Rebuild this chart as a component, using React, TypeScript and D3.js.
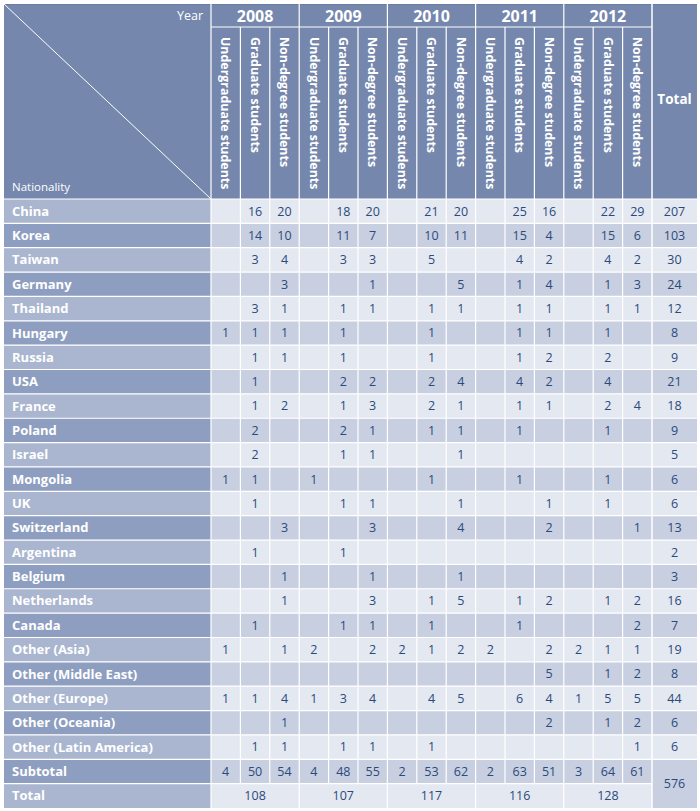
import React from "react";
import * as d3 from "d3";

const years = ["2008", "2009", "2010", "2011", "2012"];
const studentTypes = ["Undergraduate students", "Graduate students", "Non-degree students"];

const nationalities = [
  "China", "Korea", "Taiwan", "Germany", "Thailand", "Hungary", "Russia", "USA",
  "France", "Poland", "Israel", "Mongolia", "UK", "Switzerland", "Argentina",
  "Belgium", "Netherlands", "Canada", "Other (Asia)", "Other (Middle East)",
  "Other (Europe)", "Other (Oceania)", "Other (Latin America)",
];

type V = number | null;
const _ = null;
// columns: 2008 U,G,N | 2009 U,G,N | 2010 U,G,N | 2011 U,G,N | 2012 U,G,N
const values: V[][] = [
  [_, 16, 20, _, 18, 20, _, 21, 20, _, 25, 16, _, 22, 29],
  [_, 14, 10, _, 11, 7, _, 10, 11, _, 15, 4, _, 15, 6],
  [_, 3, 4, _, 3, 3, _, 5, _, _, 4, 2, _, 4, 2],
  [_, _, 3, _, _, 1, _, _, 5, _, 1, 4, _, 1, 3],
  [_, 3, 1, _, 1, 1, _, 1, 1, _, 1, 1, _, 1, 1],
  [1, 1, 1, _, 1, _, _, 1, _, _, 1, 1, _, 1, _],
  [_, 1, 1, _, 1, _, _, 1, _, _, 1, 2, _, 2, _],
  [_, 1, _, _, 2, 2, _, 2, 4, _, 4, 2, _, 4, _],
  [_, 1, 2, _, 1, 3, _, 2, 1, _, 1, 1, _, 2, 4],
  [_, 2, _, _, 2, 1, _, 1, 1, _, 1, _, _, 1, _],
  [_, 2, _, _, 1, 1, _, _, 1, _, _, _, _, _, _],
  [1, 1, _, 1, _, _, _, 1, _, _, 1, _, _, 1, _],
  [_, 1, _, _, 1, 1, _, _, 1, _, _, 1, _, 1, _],
  [_, _, 3, _, _, 3, _, _, 4, _, _, 2, _, _, 1],
  [_, 1, _, _, 1, _, _, _, _, _, _, _, _, _, _],
  [_, _, 1, _, _, 1, _, _, 1, _, _, _, _, _, _],
  [_, _, 1, _, _, 3, _, 1, 5, _, 1, 2, _, 1, 2],
  [_, 1, _, _, 1, 1, _, 1, _, _, 1, _, _, _, 2],
  [1, _, 1, 2, _, 2, 2, 1, 2, 2, _, 2, 2, 1, 1],
  [_, _, _, _, _, _, _, _, _, _, _, 5, _, 1, 2],
  [1, 1, 4, 1, 3, 4, _, 4, 5, _, 6, 4, 1, 5, 5],
  [_, _, 1, _, _, _, _, _, _, _, _, 2, _, 1, 2],
  [_, 1, 1, _, 1, 1, _, 1, _, _, _, _, _, _, 1],
];
const rowTotals = [207, 103, 30, 24, 12, 8, 9, 21, 18, 9, 5, 6, 6, 13, 2, 3, 16, 7, 19, 8, 44, 6, 6];
const subtotals = [4, 50, 54, 4, 48, 55, 2, 53, 62, 2, 63, 51, 3, 64, 61];
const yearTotals = [108, 107, 117, 116, 128];
const grandTotal = 576;

const HEADER = "#7587ad";
const LABEL_LIGHT = "#aab6cf";
const LABEL_DARK = "#8e9ec0";
const CELL_LIGHT = "#e4e8f1";
const CELL_DARK = "#c8cfe0";
const TEXT = "#2b4a7c";
const FONT = "'Open Sans', sans-serif";
const NUM_SIZE = 12.5;

export default function App() {
  const left = 4, top = 4, labelRight = 211, dataRight = 652, right = 697;
  const yearRowBottom = 27, headerBottom = 199, bottom = 808;
  const rowNames = [...nationalities, "Subtotal", "Total"];
  const cols = d3.range(15);
  const x = d3.scaleBand<number>().domain(cols).range([labelRight, dataRight]);
  const xYear = d3.scaleBand<string>().domain(years).range([labelRight, dataRight]);
  const y = d3.scaleBand<string>().domain(rowNames).range([headerBottom, bottom]);
  const rh = y.bandwidth();
  const cw = x.bandwidth();

  const cells: React.ReactNode[] = [];
  rowNames.forEach((name, i) => {
    const dark = i % 2 === 1;
    const yy = y(name)!;
    cells.push(
      <rect key={"l" + i} x={left} y={yy} width={labelRight - left} height={rh} fill={dark ? LABEL_DARK : LABEL_LIGHT} />
    );
    cells.push(
      <text key={"lt" + i} x={12} y={yy + rh / 2} dy="0.35em" fill="#fff" fontSize={13} fontWeight={700} fontFamily={FONT}>
        {name}
      </text>
    );
    if (name === "Total") {
      years.forEach((yr, j) => {
        cells.push(
          <rect key={"tc" + j} x={xYear(yr)!} y={yy} width={xYear.bandwidth()} height={rh} fill={CELL_LIGHT} />
        );
        cells.push(
          <text key={"tt" + j} x={xYear(yr)! + xYear.bandwidth() / 2} y={yy + rh / 2} dy="0.35em" textAnchor="middle" fill={TEXT} fontSize={NUM_SIZE} fontFamily={FONT}>
            {yearTotals[j]}
          </text>
        );
      });
      return;
    }
    const rowVals: V[] = name === "Subtotal" ? subtotals : values[i];
    cols.forEach((c) => {
      cells.push(
        <rect key={`c${i}-${c}`} x={x(c)!} y={yy} width={cw} height={rh} fill={dark ? CELL_DARK : CELL_LIGHT} />
      );
      const v = rowVals[c];
      if (v !== null) {
        cells.push(
          <text key={`t${i}-${c}`} x={x(c)! + cw / 2} y={yy + rh / 2} dy="0.35em" textAnchor="middle" fill={TEXT} fontSize={NUM_SIZE} fontFamily={FONT}>
            {v}
          </text>
        );
      }
    });
    if (name === "Subtotal") {
      cells.push(
        <rect key="gt" x={dataRight} y={yy} width={right - dataRight} height={rh * 2} fill={CELL_DARK} />
      );
      cells.push(
        <text key="gtt" x={(dataRight + right) / 2} y={yy + rh} dy="0.35em" textAnchor="middle" fill={TEXT} fontSize={NUM_SIZE} fontFamily={FONT}>
          {grandTotal}
        </text>
      );
    } else {
      cells.push(
        <rect key={"rt" + i} x={dataRight} y={yy} width={right - dataRight} height={rh} fill={dark ? CELL_DARK : CELL_LIGHT} />
      );
      cells.push(
        <text key={"rtt" + i} x={(dataRight + right) / 2} y={yy + rh / 2} dy="0.35em" textAnchor="middle" fill={TEXT} fontSize={NUM_SIZE} fontFamily={FONT}>
          {rowTotals[i]}
        </text>
      );
    }
  });

  // grid lines
  const lines: React.ReactNode[] = [];
  rowNames.forEach((name, i) => {
    if (i === 0) return;
    const yy = y(name)!;
    const x2 = name === "Total" ? dataRight : right;
    lines.push(<line key={"h" + i} x1={left} x2={x2} y1={yy} y2={yy} stroke="#fff" strokeWidth={1.2} />);
  });
  lines.push(<line key="hh" x1={left} x2={right} y1={headerBottom} y2={headerBottom} stroke="#fff" strokeWidth={1.2} />);
  lines.push(<line key="hy" x1={labelRight} x2={dataRight} y1={yearRowBottom} y2={yearRowBottom} stroke="#fff" strokeWidth={1.2} />);
  cols.forEach((c) => {
    if (c === 0) return;
    const xx = x(c)!;
    const isYear = c % 3 === 0;
    lines.push(
      <line key={"v" + c} x1={xx} x2={xx} y1={isYear ? top : yearRowBottom} y2={isYear ? bottom : y("Total")!} stroke="#fff" strokeWidth={1.2} />
    );
  });
  lines.push(<line key="vl" x1={labelRight} x2={labelRight} y1={top} y2={bottom} stroke="#fff" strokeWidth={1.2} />);
  lines.push(<line key="vr" x1={dataRight} x2={dataRight} y1={top} y2={bottom} stroke="#fff" strokeWidth={1.5} />);

  return (
    <svg width={700} height={811} style={{ position: "absolute", left: 0, top: 0 }}>
      <rect x={0} y={0} width={700} height={811} fill="#fff" />
      <rect x={left} y={top} width={right - left} height={headerBottom - top} fill={HEADER} />
      <line x1={left} x2={right} y1={top + 0.5} y2={top + 0.5} stroke="#6a7ca3" strokeWidth={1} />
      {cells}
      {lines}
      <line x1={left} y1={top} x2={labelRight} y2={headerBottom} stroke="#fff" strokeWidth={1} />
      <text x={203} y={16} dy="0.35em" textAnchor="end" fill="#fff" fontSize={12.5} fontFamily={FONT}>Year</text>
      <text x={12} y={187} dy="0.35em" fill="#fff" fontSize={11.5} fontFamily={FONT}>Nationality</text>
      {years.map((yr) => (
        <text key={yr} x={xYear(yr)! + xYear.bandwidth() / 2} y={16} dy="0.35em" textAnchor="middle" fill="#fff" fontSize={16} fontWeight={700} fontFamily={FONT}>
          {yr}
        </text>
      ))}
      {cols.map((c) => {
        const cx = x(c)! + cw / 2;
        return (
          <text key={"st" + c} transform={`translate(${cx},${37}) rotate(90)`} dy="0.35em" fill="#fff" fontSize={12.4} fontWeight={700} fontFamily={FONT}>
            {studentTypes[c % 3]}
          </text>
        );
      })}
      <text x={(dataRight + right) / 2} y={99} dy="0.35em" textAnchor="middle" fill="#fff" fontSize={13.5} fontWeight={700} fontFamily={FONT}>Total</text>
    </svg>
  );
}
